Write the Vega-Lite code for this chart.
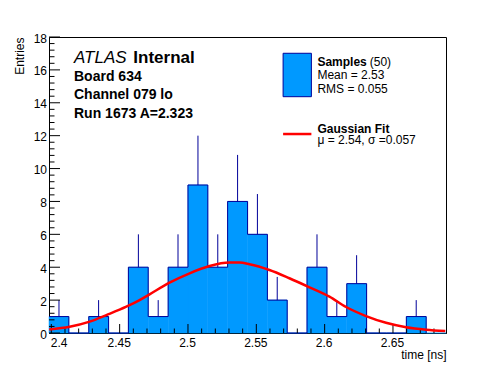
{
  "$schema": "https://vega.github.io/schema/vega-lite/v6.json",
  "autosize": "none",
  "width": 397,
  "height": 296,
  "padding": {"left": 49, "top": 37, "right": 50, "bottom": 39},
  "background": "white",
  "config": {
    "view": {"stroke": "black", "strokeWidth": 1},
    "font": "Liberation Sans",
    "axis": {
      "zindex": 1,
      "grid": false,
      "ticks": false,
      "tickSize": 0,
      "domainColor": "black",
      "domainWidth": 1,
      "labelFont": "Liberation Sans",
      "labelFontSize": 12,
      "labelColor": "black",
      "titleFont": "Liberation Sans",
      "titleFontSize": 12,
      "titleFontWeight": "normal",
      "titleColor": "black",
      "labelOverlap": false,
      "labelFlush": false
    },
    "axisX": {
      "title": "time [ns]",
      "labelPadding": 4.5,
      "labelBaseline": "top",
      "labelOffset": -1,
      "titleAnchor": "end",
      "titleAlign": "right",
      "titleX": 397,
      "titleY": 25,
      "titleBaseline": "alphabetic"
    },
    "axisY": {
      "labelPadding": 2.5,
      "labelOffset": 1,
      "titleAnchor": "end",
      "titleAlign": "right",
      "titleAngle": -90,
      "titleX": -30,
      "titleY": 0,
      "titleBaseline": "middle"
    }
  },
  "datasets": {
    "hist": [
      {"x0": 2.3983, "x1": 2.4128, "xm": 2.4056, "n": 1, "e": 2},
      {"x0": 2.4128, "x1": 2.4274, "xm": 2.4201, "n": 0, "e": 0},
      {"x0": 2.4274, "x1": 2.4419, "xm": 2.4346, "n": 1, "e": 2},
      {"x0": 2.4419, "x1": 2.4564, "xm": 2.4492, "n": 0, "e": 0},
      {"x0": 2.4564, "x1": 2.4709, "xm": 2.4637, "n": 4, "e": 6},
      {"x0": 2.4709, "x1": 2.4855, "xm": 2.4782, "n": 1, "e": 2},
      {"x0": 2.4855, "x1": 2.5000, "xm": 2.4927, "n": 4, "e": 6},
      {"x0": 2.5000, "x1": 2.5145, "xm": 2.5073, "n": 9, "e": 12},
      {"x0": 2.5145, "x1": 2.5290, "xm": 2.5218, "n": 4, "e": 6},
      {"x0": 2.5290, "x1": 2.5436, "xm": 2.5363, "n": 8, "e": 10.83},
      {"x0": 2.5436, "x1": 2.5581, "xm": 2.5508, "n": 6, "e": 8.45},
      {"x0": 2.5581, "x1": 2.5726, "xm": 2.5653, "n": 2, "e": 3.41},
      {"x0": 2.5726, "x1": 2.5871, "xm": 2.5799, "n": 0, "e": 0},
      {"x0": 2.5871, "x1": 2.6017, "xm": 2.5944, "n": 4, "e": 6},
      {"x0": 2.6017, "x1": 2.6162, "xm": 2.6089, "n": 1, "e": 2},
      {"x0": 2.6162, "x1": 2.6307, "xm": 2.6234, "n": 3, "e": 4.73},
      {"x0": 2.6307, "x1": 2.6452, "xm": 2.6380, "n": 0, "e": 0},
      {"x0": 2.6452, "x1": 2.6598, "xm": 2.6525, "n": 0, "e": 0},
      {"x0": 2.6598, "x1": 2.6743, "xm": 2.6670, "n": 1, "e": 2},
      {"x0": 2.6743, "x1": 2.6888, "xm": 2.6816, "n": 0, "e": 0}
    ],
    "fit": [
      {"t": 2.3984, "f": 0.22},
      {"t": 2.4134, "f": 0.38},
      {"t": 2.4281, "f": 0.69},
      {"t": 2.4403, "f": 1.09},
      {"t": 2.4549, "f": 1.6},
      {"t": 2.4646, "f": 2.0},
      {"t": 2.4719, "f": 2.35},
      {"t": 2.4865, "f": 3.06},
      {"t": 2.5012, "f": 3.63},
      {"t": 2.5158, "f": 4.07},
      {"t": 2.5304, "f": 4.28},
      {"t": 2.5377, "f": 4.28},
      {"t": 2.5450, "f": 4.18},
      {"t": 2.5596, "f": 3.83},
      {"t": 2.5742, "f": 3.33},
      {"t": 2.5889, "f": 2.78},
      {"t": 2.6035, "f": 2.21},
      {"t": 2.6157, "f": 1.58},
      {"t": 2.6303, "f": 1.03},
      {"t": 2.6449, "f": 0.62},
      {"t": 2.6596, "f": 0.35},
      {"t": 2.6742, "f": 0.2},
      {"t": 2.6883, "f": 0.12}
    ],
    "xMajor": [{"v": 2.4}, {"v": 2.45}, {"v": 2.5}, {"v": 2.55}, {"v": 2.6}, {"v": 2.65}],
    "xMinor": [
      {"v": 2.41}, {"v": 2.42}, {"v": 2.43}, {"v": 2.44},
      {"v": 2.46}, {"v": 2.47}, {"v": 2.48}, {"v": 2.49},
      {"v": 2.51}, {"v": 2.52}, {"v": 2.53}, {"v": 2.54},
      {"v": 2.56}, {"v": 2.57}, {"v": 2.58}, {"v": 2.59},
      {"v": 2.61}, {"v": 2.62}, {"v": 2.63}, {"v": 2.64},
      {"v": 2.66}, {"v": 2.67}, {"v": 2.68}
    ],
    "yMajor": [{"v": 0}, {"v": 2}, {"v": 4}, {"v": 6}, {"v": 8}, {"v": 10}, {"v": 12}, {"v": 14}, {"v": 16}, {"v": 18}],
    "yMinor": [
      {"v": 0.4}, {"v": 0.8}, {"v": 1.2}, {"v": 1.6},
      {"v": 2.4}, {"v": 2.8}, {"v": 3.2}, {"v": 3.6},
      {"v": 4.4}, {"v": 4.8}, {"v": 5.2}, {"v": 5.6},
      {"v": 6.4}, {"v": 6.8}, {"v": 7.2}, {"v": 7.6},
      {"v": 8.4}, {"v": 8.8}, {"v": 9.2}, {"v": 9.6},
      {"v": 10.4}, {"v": 10.8}, {"v": 11.2}, {"v": 11.6},
      {"v": 12.4}, {"v": 12.8}, {"v": 13.2}, {"v": 13.6},
      {"v": 14.4}, {"v": 14.8}, {"v": 15.2}, {"v": 15.6},
      {"v": 16.4}, {"v": 16.8}, {"v": 17.2}, {"v": 17.6}
    ],
    "atlas": [{"x": 2.4166, "y": 16.4, "text": "ATLAS"}],
    "internal": [{"x": 2.4600, "y": 16.4, "text": "Internal"}],
    "info": [
      {"x": 2.4166, "y": 15.33, "text": "Board 634"},
      {"x": 2.4166, "y": 14.21, "text": "Channel 079 lo"},
      {"x": 2.4166, "y": 13.06, "text": "Run 1673 A=2.323"}
    ],
    "legBold": [
      {"x": 2.5947, "y": 16.23, "text": "Samples"},
      {"x": 2.5947, "y": 12.18, "text": "Gaussian Fit"}
    ],
    "legReg": [
      {"x": 2.6330, "y": 16.23, "text": "(50)"},
      {"x": 2.5947, "y": 15.42, "text": "Mean = 2.53"},
      {"x": 2.5947, "y": 14.58, "text": "RMS = 0.055"},
      {"x": 2.5947, "y": 11.49, "text": "μ = 2.54, σ =0.057"}
    ],
    "legBox": [{"x": 2.5696, "x2": 2.5903, "y": 17.01, "y2": 14.37}],
    "legLine": [{"x": 2.5696, "x2": 2.5903, "y": 12.1}]
  },
  "layer": [
    {
      "data": {"name": "hist"},
      "mark": {"type": "rect", "fill": "#0099ff", "stroke": "#0099ff", "strokeWidth": 0.5},
      "encoding": {
        "x": {
          "field": "x0", "type": "quantitative",
          "scale": {"domain": [2.3983, 2.6888], "nice": false, "zero": false},
          "axis": {"title": "time [ns]", "values": [2.4, 2.45, 2.5, 2.55, 2.6, 2.65], "labelOverlap": false, "labelExpr": "format(datum.value, '.2~f')", "labelAlign": {"condition": {"test": "datum.value < 2.41", "value": "left"}, "value": "center"}}
        },
        "x2": {"field": "x1"},
        "y": {
          "field": "n", "type": "quantitative",
          "scale": {"domain": [0, 18], "nice": false},
          "axis": {"title": "Entries", "values": [0, 2, 4, 6, 8, 10, 12, 14, 16, 18], "labelOverlap": false}
        },
        "y2": {"datum": 0}
      }
    },
    {
      "data": {"name": "hist"},
      "mark": {"type": "line", "interpolate": "step-after", "color": "#000099", "strokeWidth": 1},
      "encoding": {
        "x": {"field": "x0", "type": "quantitative", "axis": {"title": "time [ns]", "values": [2.4, 2.45, 2.5, 2.55, 2.6, 2.65], "labelOverlap": false, "labelExpr": "format(datum.value, '.2~f')", "labelAlign": {"condition": {"test": "datum.value < 2.41", "value": "left"}, "value": "center"}}},
        "y": {"field": "n", "type": "quantitative", "axis": {"title": "Entries", "values": [0, 2, 4, 6, 8, 10, 12, 14, 16, 18], "labelOverlap": false}}
      }
    },
    {
      "data": {"name": "hist"},
      "transform": [{"filter": "datum.n > 0"}],
      "mark": {"type": "rule", "color": "#000099", "strokeWidth": 1},
      "encoding": {
        "x": {"field": "xm", "type": "quantitative", "axis": {"title": "time [ns]", "values": [2.4, 2.45, 2.5, 2.55, 2.6, 2.65], "labelOverlap": false, "labelExpr": "format(datum.value, '.2~f')", "labelAlign": {"condition": {"test": "datum.value < 2.41", "value": "left"}, "value": "center"}}},
        "y": {"field": "n", "type": "quantitative", "axis": {"title": "Entries", "values": [0, 2, 4, 6, 8, 10, 12, 14, 16, 18], "labelOverlap": false}},
        "y2": {"field": "e"}
      }
    },
    {
      "data": {"name": "xMajor"},
      "mark": {"type": "rule", "color": "black", "strokeWidth": 1, "y2Offset": -9},
      "encoding": {
        "x": {"field": "v", "type": "quantitative", "axis": {"title": "time [ns]", "values": [2.4, 2.45, 2.5, 2.55, 2.6, 2.65], "labelOverlap": false, "labelExpr": "format(datum.value, '.2~f')", "labelAlign": {"condition": {"test": "datum.value < 2.41", "value": "left"}, "value": "center"}}},
        "y": {"datum": 0, "type": "quantitative", "axis": {"title": "Entries", "values": [0, 2, 4, 6, 8, 10, 12, 14, 16, 18], "labelOverlap": false}},
        "y2": {"datum": 0}
      }
    },
    {
      "data": {"name": "xMinor"},
      "mark": {"type": "rule", "color": "black", "strokeWidth": 1, "y2Offset": -4.5},
      "encoding": {
        "x": {"field": "v", "type": "quantitative", "axis": {"title": "time [ns]", "values": [2.4, 2.45, 2.5, 2.55, 2.6, 2.65], "labelOverlap": false, "labelExpr": "format(datum.value, '.2~f')", "labelAlign": {"condition": {"test": "datum.value < 2.41", "value": "left"}, "value": "center"}}},
        "y": {"datum": 0, "type": "quantitative", "axis": {"title": "Entries", "values": [0, 2, 4, 6, 8, 10, 12, 14, 16, 18], "labelOverlap": false}},
        "y2": {"datum": 0}
      }
    },
    {
      "data": {"name": "yMajor"},
      "mark": {"type": "rule", "color": "black", "strokeWidth": 1, "x2Offset": 11},
      "encoding": {
        "y": {"field": "v", "type": "quantitative", "axis": {"title": "Entries", "values": [0, 2, 4, 6, 8, 10, 12, 14, 16, 18], "labelOverlap": false}},
        "x": {"datum": 2.3983, "type": "quantitative", "axis": {"title": "time [ns]", "values": [2.4, 2.45, 2.5, 2.55, 2.6, 2.65], "labelOverlap": false, "labelExpr": "format(datum.value, '.2~f')", "labelAlign": {"condition": {"test": "datum.value < 2.41", "value": "left"}, "value": "center"}}},
        "x2": {"datum": 2.3983}
      }
    },
    {
      "data": {"name": "yMinor"},
      "mark": {"type": "rule", "color": "black", "strokeWidth": 1, "x2Offset": 5.5},
      "encoding": {
        "y": {"field": "v", "type": "quantitative", "axis": {"title": "Entries", "values": [0, 2, 4, 6, 8, 10, 12, 14, 16, 18], "labelOverlap": false}},
        "x": {"datum": 2.3983, "type": "quantitative", "axis": {"title": "time [ns]", "values": [2.4, 2.45, 2.5, 2.55, 2.6, 2.65], "labelOverlap": false, "labelExpr": "format(datum.value, '.2~f')", "labelAlign": {"condition": {"test": "datum.value < 2.41", "value": "left"}, "value": "center"}}},
        "x2": {"datum": 2.3983}
      }
    },
    {
      "data": {"name": "fit"},
      "mark": {"type": "line", "interpolate": "monotone", "color": "#ff0000", "strokeWidth": 2.5},
      "encoding": {
        "x": {"field": "t", "type": "quantitative", "axis": {"title": "time [ns]", "values": [2.4, 2.45, 2.5, 2.55, 2.6, 2.65], "labelOverlap": false, "labelExpr": "format(datum.value, '.2~f')", "labelAlign": {"condition": {"test": "datum.value < 2.41", "value": "left"}, "value": "center"}}},
        "y": {"field": "f", "type": "quantitative", "axis": {"title": "Entries", "values": [0, 2, 4, 6, 8, 10, 12, 14, 16, 18], "labelOverlap": false}}
      }
    },
    {
      "data": {"name": "atlas"},
      "mark": {"type": "text", "align": "left", "baseline": "alphabetic", "font": "Liberation Sans", "fontSize": 17, "fontStyle": "italic", "color": "black"},
      "encoding": {
        "x": {"field": "x", "type": "quantitative", "axis": {"title": "time [ns]", "values": [2.4, 2.45, 2.5, 2.55, 2.6, 2.65], "labelOverlap": false, "labelExpr": "format(datum.value, '.2~f')", "labelAlign": {"condition": {"test": "datum.value < 2.41", "value": "left"}, "value": "center"}}},
        "y": {"field": "y", "type": "quantitative", "axis": {"title": "Entries", "values": [0, 2, 4, 6, 8, 10, 12, 14, 16, 18], "labelOverlap": false}},
        "text": {"field": "text"}
      }
    },
    {
      "data": {"name": "internal"},
      "mark": {"type": "text", "align": "left", "baseline": "alphabetic", "font": "Liberation Sans", "fontSize": 17, "fontWeight": "bold", "color": "black"},
      "encoding": {
        "x": {"field": "x", "type": "quantitative", "axis": {"title": "time [ns]", "values": [2.4, 2.45, 2.5, 2.55, 2.6, 2.65], "labelOverlap": false, "labelExpr": "format(datum.value, '.2~f')", "labelAlign": {"condition": {"test": "datum.value < 2.41", "value": "left"}, "value": "center"}}},
        "y": {"field": "y", "type": "quantitative", "axis": {"title": "Entries", "values": [0, 2, 4, 6, 8, 10, 12, 14, 16, 18], "labelOverlap": false}},
        "text": {"field": "text"}
      }
    },
    {
      "data": {"name": "info"},
      "mark": {"type": "text", "align": "left", "baseline": "alphabetic", "font": "Liberation Sans", "fontSize": 14, "fontWeight": "bold", "color": "black"},
      "encoding": {
        "x": {"field": "x", "type": "quantitative", "axis": {"title": "time [ns]", "values": [2.4, 2.45, 2.5, 2.55, 2.6, 2.65], "labelOverlap": false, "labelExpr": "format(datum.value, '.2~f')", "labelAlign": {"condition": {"test": "datum.value < 2.41", "value": "left"}, "value": "center"}}},
        "y": {"field": "y", "type": "quantitative", "axis": {"title": "Entries", "values": [0, 2, 4, 6, 8, 10, 12, 14, 16, 18], "labelOverlap": false}},
        "text": {"field": "text"}
      }
    },
    {
      "data": {"name": "legBox"},
      "mark": {"type": "rect", "fill": "#0099ff", "stroke": "#000099", "strokeWidth": 1},
      "encoding": {
        "x": {"field": "x", "type": "quantitative", "axis": {"title": "time [ns]", "values": [2.4, 2.45, 2.5, 2.55, 2.6, 2.65], "labelOverlap": false, "labelExpr": "format(datum.value, '.2~f')", "labelAlign": {"condition": {"test": "datum.value < 2.41", "value": "left"}, "value": "center"}}},
        "x2": {"field": "x2"},
        "y": {"field": "y", "type": "quantitative", "axis": {"title": "Entries", "values": [0, 2, 4, 6, 8, 10, 12, 14, 16, 18], "labelOverlap": false}},
        "y2": {"field": "y2"}
      }
    },
    {
      "data": {"name": "legLine"},
      "mark": {"type": "rule", "color": "#ff0000", "strokeWidth": 2.5},
      "encoding": {
        "x": {"field": "x", "type": "quantitative", "axis": {"title": "time [ns]", "values": [2.4, 2.45, 2.5, 2.55, 2.6, 2.65], "labelOverlap": false, "labelExpr": "format(datum.value, '.2~f')", "labelAlign": {"condition": {"test": "datum.value < 2.41", "value": "left"}, "value": "center"}}},
        "x2": {"field": "x2"},
        "y": {"field": "y", "type": "quantitative", "axis": {"title": "Entries", "values": [0, 2, 4, 6, 8, 10, 12, 14, 16, 18], "labelOverlap": false}}
      }
    },
    {
      "data": {"name": "legBold"},
      "mark": {"type": "text", "align": "left", "baseline": "alphabetic", "font": "Liberation Sans", "fontSize": 12, "fontWeight": "bold", "color": "black"},
      "encoding": {
        "x": {"field": "x", "type": "quantitative", "axis": {"title": "time [ns]", "values": [2.4, 2.45, 2.5, 2.55, 2.6, 2.65], "labelOverlap": false, "labelExpr": "format(datum.value, '.2~f')", "labelAlign": {"condition": {"test": "datum.value < 2.41", "value": "left"}, "value": "center"}}},
        "y": {"field": "y", "type": "quantitative", "axis": {"title": "Entries", "values": [0, 2, 4, 6, 8, 10, 12, 14, 16, 18], "labelOverlap": false}},
        "text": {"field": "text"}
      }
    },
    {
      "data": {"name": "legReg"},
      "mark": {"type": "text", "align": "left", "baseline": "alphabetic", "font": "Liberation Sans", "fontSize": 12, "color": "black"},
      "encoding": {
        "x": {"field": "x", "type": "quantitative", "axis": {"title": "time [ns]", "values": [2.4, 2.45, 2.5, 2.55, 2.6, 2.65], "labelOverlap": false, "labelExpr": "format(datum.value, '.2~f')", "labelAlign": {"condition": {"test": "datum.value < 2.41", "value": "left"}, "value": "center"}}},
        "y": {"field": "y", "type": "quantitative", "axis": {"title": "Entries", "values": [0, 2, 4, 6, 8, 10, 12, 14, 16, 18], "labelOverlap": false}},
        "text": {"field": "text"}
      }
    }
  ]
}
